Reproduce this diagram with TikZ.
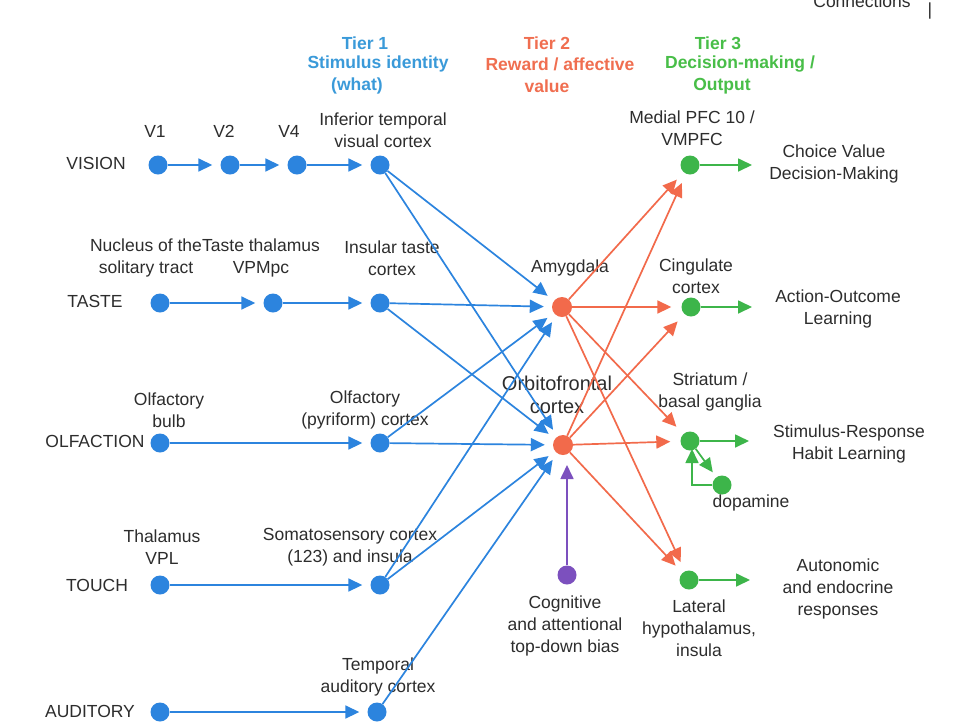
\documentclass[tikz,border=0pt]{standalone}
\usepackage{fontspec}
\setmainfont{Liberation Sans}
\usetikzlibrary{arrows.meta}
\definecolor{cblue}{RGB}{44,132,222}
\definecolor{corange}{RGB}{242,106,75}
\definecolor{cgreen}{RGB}{61,181,74}
\definecolor{cpurple}{RGB}{124,80,190}
\definecolor{ctxt}{RGB}{45,45,45}
\definecolor{tblue}{RGB}{58,154,217}
\definecolor{torange}{RGB}{240,110,80}
\definecolor{tgreen}{RGB}{72,190,72}
\begin{document}
\begin{tikzpicture}[x=1pt,y=-1pt,
  dot/.style={circle,inner sep=0pt,minimum size=19pt},
  bdot/.style={dot,fill=cblue},
  odot/.style={dot,fill=corange,minimum size=20pt},
  gdot/.style={dot,fill=cgreen},
  pdot/.style={dot,fill=cpurple},
  lbl/.style={font=\fontsize{17.5}{22}\selectfont,text=ctxt,align=center,inner sep=0pt},
  tier/.style={font=\fontsize{17.5}{22}\selectfont\bfseries,inner sep=0pt},
  arr/.style={-{Triangle[length=14pt,width=13pt]},line width=1.7pt,shorten >=8pt},
  barr/.style={arr,draw=cblue},
  oarr/.style={arr,draw=corange,shorten >=10pt},
  garr/.style={arr,draw=cgreen},
  parr/.style={arr,draw=cpurple,shorten >=20pt}]
\useasboundingbox[fill=white] (0,0) rectangle (955,721);

% cut-off header
\node[lbl,anchor=base] (hdr) at (862,7) {Connections};
\node[lbl,anchor=base] (bar) at (930,15) {|};

% tier titles
\node[tier,text=tblue] (t1a) at (365,43) {Tier 1};
\node[tier,text=tblue] (t1b) at (378,64) {Stimulus identity};
\node[tier,text=tblue] (t1c) at (357,86) {(what)};
\node[tier,text=torange] (t2a) at (547,43) {Tier 2};
\node[tier,text=torange] (t2b) at (560,64) {Reward / affective};
\node[tier,text=torange] (t2c) at (547,86) {value};
\node[tier,text=tgreen] (t3a) at (718,43) {Tier 3};
\node[tier,text=tgreen] (t3b) at (740,64) {Decision-making /};
\node[tier,text=tgreen] (t3c) at (722,86) {Output};

% row labels
\node[lbl] (lvis) at (96,163) {VISION};
\node[lbl] (ltas) at (95,301) {TASTE};
\node[lbl] (lolf) at (95,441) {OLFACTION};
\node[lbl] (ltou) at (97,585) {TOUCH};
\node[lbl] (laud) at (90,711) {AUDITORY};

% blue nodes
\node[bdot] (v1) at (158,165) {};
\node[bdot] (v2) at (230,165) {};
\node[bdot] (v4) at (297,165) {};
\node[bdot] (it) at (380,165) {};
\node[bdot] (nts) at (160,303) {};
\node[bdot] (tth) at (273,303) {};
\node[bdot] (ins) at (380,303) {};
\node[bdot] (ob) at (160,443) {};
\node[bdot] (olf) at (380,443) {};
\node[bdot] (vpl) at (160,585) {};
\node[bdot] (som) at (380,585) {};
\node[bdot] (a1) at (160,712) {};
\node[bdot] (aud) at (377,712) {};

% orange, purple, green nodes
\node[odot] (amy) at (562,307) {};
\node[odot] (ofc) at (563,445) {};
\node[pdot] (cog) at (567,575) {};
\node[gdot] (mpfc) at (690,165) {};
\node[gdot] (cing) at (691,307) {};
\node[gdot] (stri) at (690,441) {};
\node[gdot] (lh) at (689,580) {};
\node[gdot] (dop) at (722,485) {};

% labels
\node[lbl] (lv1) at (155,131) {V1};
\node[lbl] (lv2) at (224,131) {V2};
\node[lbl] (lv4) at (289,131) {V4};
\node[lbl] (lit) at (383,130) {Inferior temporal\\visual cortex};
\node[lbl] (lnts) at (146,258) {Nucleus of the\\solitary tract};
\node[lbl] (ltth) at (261,258) {Taste thalamus\\VPMpc};
\node[lbl] (lins) at (392,258) {Insular taste\\cortex};
\node[lbl] (lob) at (169,410) {Olfactory\\bulb};
\node[lbl] (lolfc) at (365,410) {Olfactory\\(pyriform) cortex};
\node[lbl] (lvpl) at (162,547) {Thalamus\\VPL};
\node[lbl] (lsom) at (350,547) {Somatosensory cortex\\(123) and insula};
\node[lbl] (laudc) at (378,677) {Temporal\\auditory cortex};
\node[lbl] (lamy) at (570,268) {Amygdala};
\node[lbl,font=\fontsize{20}{23}\selectfont] (lofc) at (557,395) {Orbitofrontal\\cortex};
\node[lbl] (lcog) at (565,626) {Cognitive\\and attentional\\top-down bias};
\node[lbl] (lmpfc) at (692,128) {Medial PFC 10 /\\VMPFC};
\node[lbl] (lcing) at (696,276) {Cingulate\\cortex};
\node[lbl] (lstri) at (710,392) {Striatum /\\basal ganglia};
\node[lbl] (llh) at (699,628) {Lateral\\hypothalamus,\\insula};
\node[lbl] (ldop) at (751,503) {dopamine};
\node[lbl] (o1) at (834,164) {Choice Value\\Decision-Making};
\node[lbl] (o2) at (838,309) {Action-Outcome\\Learning};
\node[lbl] (o3) at (849,444) {Stimulus-Response\\Habit Learning};
\node[lbl] (o4) at (838,589) {Autonomic\\and endocrine\\responses};

% output arrow ends
\coordinate (e1) at (752,165);
\coordinate (e2) at (752,307);
\coordinate (e3) at (749,441);
\coordinate (e4) at (750,580);

% blue chains
\draw[barr] (v1) -- (v2);
\draw[barr] (v2) -- (v4);
\draw[barr] (v4) -- (it);
\draw[barr] (nts) -- (tth);
\draw[barr] (tth) -- (ins);
\draw[barr] (ob) -- (olf);
\draw[barr] (vpl) -- (som);
\draw[barr] (a1) -- (aud);

% blue to tier 2
\draw[barr] (it) -- (amy);
\draw[barr] (it) -- (ofc);
\draw[barr] (ins) -- (amy);
\draw[barr] (ins) -- (ofc);
\draw[barr] (olf) -- (amy);
\draw[barr] (olf) -- (ofc);
\draw[barr] (som) -- (amy);
\draw[barr] (som) -- (ofc);
\draw[barr] (aud) -- (ofc);

% purple
\draw[parr] (cog) -- (cog |- ofc);

% orange
\foreach \s in {amy,ofc}{
  \draw[oarr] (\s) -- (mpfc);
  \draw[oarr] (\s) -- (cing);
  \draw[oarr] (\s) -- (stri);
  \draw[oarr] (\s) -- (lh);
}

% green outputs
\draw[garr,shorten >=0pt] (mpfc) -- (e1);
\draw[garr,shorten >=0pt] (cing) -- (e2);
\draw[garr,shorten >=0pt] (stri) -- (e3);
\draw[garr,shorten >=0pt] (lh) -- (e4);
\draw[garr,shorten >=6pt] (stri) -- (dop);
\draw[garr] (dop) -| ([xshift=2pt]stri.center);
\end{tikzpicture}
\end{document}
